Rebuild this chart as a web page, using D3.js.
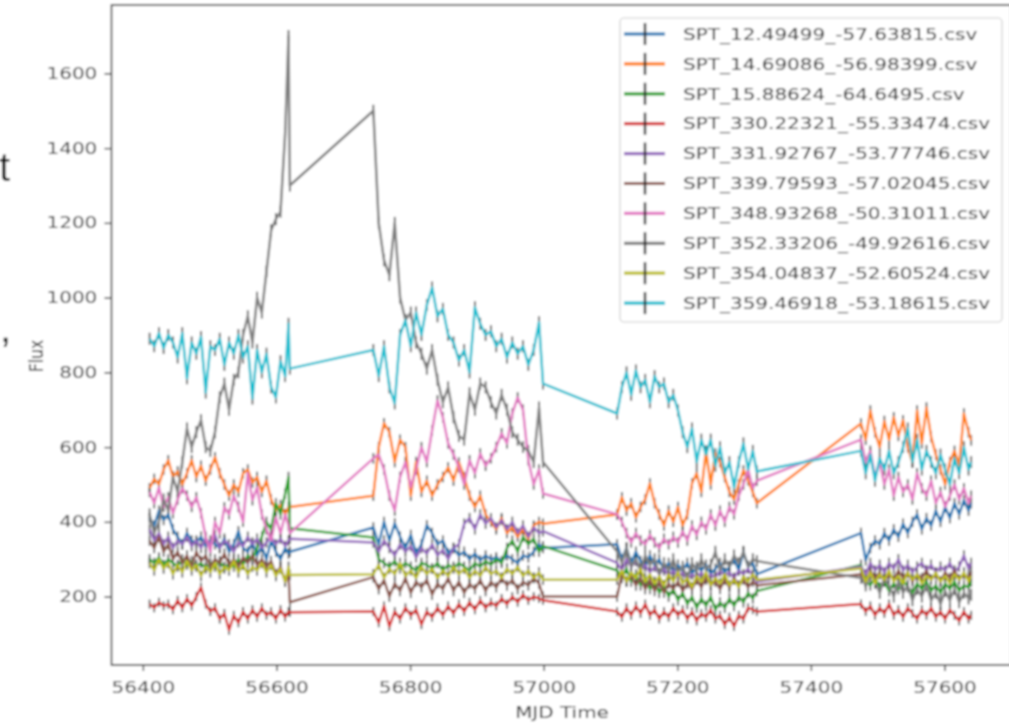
<!DOCTYPE html>
<html>
<head>
<meta charset="utf-8">
<script src="https://cdn.jsdelivr.net/npm/d3@7"></script>
<style>
  body { margin: 0; background: #fff; overflow: hidden; }
  svg { display: block; }
  text { font-family: "DejaVu Sans", sans-serif; }
</style>
</head>
<body>
<div id="chart"></div>
<script>
// observation dates (MJD), four observing seasons
const mjd = [
  56410, 56417, 56424, 56431, 56438, 56445, 56452, 56459, 56466, 56473, 56480, 56487, 56494, 56501, 56508, 56515, 56522, 56529, 56536, 56543, 56550, 56557, 56564, 56571, 56578, 56585, 56592, 56599, 56606, 56613, 56618, 56620,
  56745, 56753, 56761, 56769, 56777, 56785, 56793, 56801, 56809, 56817, 56825, 56833, 56841, 56849, 56857, 56865, 56873, 56881, 56889, 56897, 56905, 56913, 56921, 56929, 56937, 56945, 56953, 56961, 56969, 56977, 56985, 56993, 56999,
  57110, 57117, 57124, 57131, 57138, 57145, 57152, 57159, 57166, 57173, 57180, 57187, 57194, 57201, 57208, 57215, 57222, 57229, 57236, 57243, 57250, 57257, 57264, 57271, 57278, 57285, 57292, 57299, 57306, 57313, 57319,
  57475, 57482, 57489, 57496, 57503, 57510, 57517, 57524, 57531, 57538, 57545, 57552, 57559, 57566, 57573, 57580, 57587, 57594, 57601, 57608, 57615, 57622, 57629, 57636, 57640
];

const files = [
  "SPT_12.49499_-57.63815.csv",
  "SPT_14.69086_-56.98399.csv",
  "SPT_15.88624_-64.6495.csv",
  "SPT_330.22321_-55.33474.csv",
  "SPT_331.92767_-53.77746.csv",
  "SPT_339.79593_-57.02045.csv",
  "SPT_348.93268_-50.31011.csv",
  "SPT_352.33206_-49.92616.csv",
  "SPT_354.04837_-52.60524.csv",
  "SPT_359.46918_-53.18615.csv"
];
const colors = ["#1f77b4", "#ff7f0e", "#2ca02c", "#d62728", "#9467bd",
                "#8c564b", "#e377c2", "#7f7f7f", "#bcbd22", "#17becf"];

const spt12 = [
  410, 390, 430, 405, 420, 380, 360, 340, 370, 350, 345, 360, 335, 350, 340, 330, 355, 320, 340, 375, 330, 320, 345, 310, 335, 300, 350, 320, 300, 330, 315, 320,
  385, 340, 400, 350, 396, 360, 330, 365, 316, 340, 391, 370, 340, 350, 316, 330, 310, 320, 300, 315, 297, 310, 300, 305, 295, 310, 300, 290, 310, 305, 320, 340, 330,
  340, 300, 330, 290, 320, 295, 280, 310, 285, 300, 270, 290, 265, 285, 270, 290, 260, 280, 270, 285, 260, 275, 290, 265, 280, 300, 270, 320, 280, 290, 260,
  370, 297, 330, 350, 340, 370, 350, 380, 360, 395, 370, 400, 420, 380, 410, 390, 430, 400, 440, 410, 450, 420, 458, 430, 450
];
const spt14 = [
  490, 515, 500, 540, 565, 520, 535, 500, 530, 565, 520, 550, 510, 540, 573, 530, 500, 470, 500, 480, 530, 540, 505, 520, 480, 510, 460, 430, 445, 420, 440, 440,
  470, 600, 664, 640, 560, 620, 600, 470, 560, 480, 510, 470, 500, 520, 546, 510, 559, 520, 470, 440, 470, 420, 400, 380, 410, 370, 385, 360, 380, 355, 390, 400, 395,
  420, 466, 430, 450, 412, 440, 460, 503, 450, 420, 390, 430, 400, 440, 390, 420, 503, 530, 480, 591, 500, 583, 560, 520, 480, 460, 500, 538, 511, 480, 450,
  663, 620, 698, 640, 600, 670, 620, 680, 630, 672, 600, 560, 698, 610, 706, 627, 580, 540, 500, 560, 590, 550, 690, 640, 618
];
const spt15 = [
  300, 290, 305, 285, 300, 290, 280, 300, 285, 295, 280, 290, 275, 290, 280, 295, 275, 290, 280, 300, 285, 310, 300, 330, 360, 400, 380, 450, 420, 476, 520, 383,
  358, 300, 290, 280, 295, 275, 290, 280, 270, 290, 285, 275, 290, 270, 285, 275, 290, 280, 270, 290, 280, 295, 285, 300, 290, 330, 350, 320, 360, 340, 355, 320, 335,
  270, 250, 275, 240, 260, 230, 250, 220, 240, 210, 230, 200, 220, 190, 210, 180, 200, 170, 195, 175, 200, 165, 185, 170, 195, 175, 200, 185, 210, 195, 215,
  285, 240, 230, 250, 225, 240, 215, 235, 220, 245, 225, 210, 235, 220, 240, 215, 230, 210, 235, 220, 240, 215, 230, 225, 240
];
const spt330 = [
  180, 170, 185, 175, 180, 165, 190, 170, 195, 175, 200, 225, 180, 160, 170, 140, 155, 110, 150, 130, 160, 140, 165, 145, 170, 150, 160, 140, 165, 145, 160, 158,
  160, 130, 175, 120, 160, 140, 170, 150, 165, 125, 160, 145, 170, 150, 175, 155, 180, 160, 185, 165, 190, 170, 185, 175, 195, 180, 200, 185, 205, 190, 200, 195, 190,
  160, 145, 170, 150, 175, 155, 180, 150, 165, 140, 160, 145, 170, 150, 165, 140, 160, 135, 155, 145, 165, 140, 150, 125, 145, 120, 150, 140, 170, 165, 160,
  180, 160, 175, 150, 170, 155, 180, 150, 165, 145, 170, 155, 140, 165, 150, 170, 145, 160, 140, 165, 150, 135, 160, 140, 150
];
const spt331 = [
  380, 350, 370, 340, 360, 330, 350, 340, 360, 335, 350, 330, 355, 340, 365, 330, 350, 340, 320, 345, 335, 360, 340, 355, 330, 345, 360, 340, 355, 335, 350, 355,
  345, 320, 350, 330, 310, 340, 320, 335, 305, 330, 315, 340, 310, 325, 300, 330, 340, 395, 410, 380, 420, 395, 410, 385, 405, 380, 400, 370, 390, 360, 385, 370, 375,
  290, 270, 300, 280, 295, 270, 285, 265, 280, 260, 275, 255, 270, 250, 265, 245, 260, 250, 265, 245, 260, 250, 270, 255, 265, 250, 270, 260, 275, 255, 240,
  280, 260, 290, 270, 285, 265, 290, 275, 300, 270, 285, 265, 280, 290, 270, 285, 265, 280, 270, 290, 265, 280, 310, 275, 290
];
const spt339 = [
  350, 330, 360, 320, 340, 300, 320, 290, 310, 280, 320, 295, 310, 280, 300, 290, 315, 285, 300, 280, 305, 290, 310, 285, 300, 280, 295, 260, 280, 240, 260, 185,
  252, 220, 245, 200, 235, 215, 250, 210, 240, 225, 245, 205, 235, 220, 250, 215, 240, 210, 235, 220, 245, 215, 240, 225, 250, 230, 245, 220, 240, 230, 250, 235, 200,
  200, 260, 240, 255, 230, 250, 220, 245, 215, 240, 210, 235, 220, 240, 215, 235, 220, 245, 225, 250, 230, 240, 220, 245, 225, 250, 230, 245, 225, 240, 230,
  260, 240, 270, 250, 265, 240, 260, 245, 270, 250, 265, 240, 260, 250, 270, 245, 260, 240, 265, 250, 270, 245, 260, 250, 265
];
const spt348 = [
  480, 450, 492, 440, 466, 423, 460, 490, 470, 440, 466, 423, 360, 320, 400, 369, 439, 420, 470, 440, 400, 530, 458, 492, 420, 380, 350, 412, 369, 420, 390, 370,
  570, 580, 540, 470, 430, 520, 560, 492, 540, 600, 560, 645, 725, 680, 610, 580, 546, 500, 565, 530, 583, 550, 570, 600, 637, 610, 690, 733, 700, 565, 500, 540, 476,
  420, 400, 370, 345, 370, 350, 340, 365, 345, 330, 355, 340, 360, 345, 375, 350, 390, 365, 400, 380, 420, 390, 430, 400, 440, 420, 470, 500, 540, 490, 510,
  620, 560, 590, 520, 560, 500, 540, 470, 520, 480, 500, 460, 530, 490, 470, 510, 450, 480, 440, 470, 500, 460, 490, 450, 470
];
const spt352 = [
  420, 370, 400, 460, 430, 520, 480, 560, 650, 600, 640, 672, 600, 590, 640, 733, 770, 700, 780, 800, 900, 950, 880, 1000, 960, 1070, 1180, 1210, 1230, 1440, 1700, 1300,
  1500, 1200, 1100, 1060, 1200, 1000, 940, 960, 880, 850, 810, 860, 780, 720, 760, 680, 630, 620, 744, 700, 770, 760, 720, 690, 740, 700, 640, 620, 600, 590, 560, 706, 560,
  320, 290, 330, 280, 300, 270, 310, 285, 300, 260, 290, 270, 300, 265, 280, 250, 290, 270, 300, 275, 285, 320, 270, 300, 280, 310, 290, 320, 280, 300, 295,
  250, 230, 260, 240, 210, 250, 230, 200, 240, 210, 230, 190, 220, 200, 230, 190, 210, 180, 215, 190, 220, 185, 210, 195, 205
];
const spt354 = [
  290, 270, 300, 275, 290, 260, 285, 265, 295, 270, 285, 255, 280, 265, 290, 260, 280, 270, 295, 265, 285, 260, 280, 270, 290, 265, 285, 255, 275, 240, 280, 258,
  260, 285, 250, 275, 260, 290, 255, 270, 250, 280, 260, 275, 250, 270, 255, 280, 260, 275, 250, 270, 255, 280, 260, 270, 250, 275, 260, 280, 255, 270, 250, 265, 245,
  245, 270, 240, 265, 250, 275, 240, 260, 235, 255, 230, 260, 240, 265, 235, 250, 225, 255, 240, 265, 230, 250, 235, 260, 230, 245, 225, 255, 240, 260, 245,
  275, 240, 265, 235, 260, 245, 270, 240, 255, 235, 265, 245, 260, 235, 255, 245, 265, 240, 255, 235, 260, 245, 265, 240, 255
];
const spt359 = [
  890, 870, 905, 865, 900, 880, 840, 905, 784, 880, 850, 895, 746, 870, 860, 890, 820, 880, 850, 900, 840, 870, 730, 860, 800, 850, 760, 733, 830, 790, 930, 810,
  860, 790, 870, 760, 717, 900, 940, 870, 960, 900, 980, 1027, 950, 970, 900, 880, 832, 860, 800, 974, 930, 900, 910, 870, 890, 840, 880, 850, 870, 820, 860, 934, 770,
  690, 760, 800, 740, 805, 760, 780, 720, 790, 760, 770, 720, 740, 698, 640, 600, 650, 560, 620, 580, 620, 550, 600, 530, 560, 492, 560, 610, 540, 590, 535,
  590, 530, 580, 510, 570, 540, 590, 530, 560, 600, 650, 560, 620, 540, 590, 560, 530, 580, 540, 500, 570, 530, 600, 540, 560
];
const fluxErr = [14, 14, 14, 12, 14, 14, 14, 16, 14, 16];

const yTicks = [200, 400, 600, 800, 1000, 1200, 1400, 1600];
const xTicks = [56400, 56600, 56800, 57000, 57200, 57400, 57600];

const series = [spt12, spt14, spt15, spt330, spt331, spt339, spt348, spt352, spt354, spt359];

var width = 1009;
var height = 724;
var fs = 15.5;      // font size
var sx = 1.29;      // the picture is stretched sideways

var svg = d3.select("#chart").append("svg")
  .attr("width", width)
  .attr("height", height);

svg.append("defs").append("filter").attr("id", "soft")
  .attr("filterUnits", "userSpaceOnUse")
  .attr("x", 0).attr("y", 0).attr("width", width).attr("height", height)
  .append("feGaussianBlur").attr("stdDeviation", 0.85);

var root = svg.append("g").attr("filter", "url(#soft)");
root.append("rect").attr("width", width).attr("height", height).attr("fill", "#fff");

var x = d3.scaleLinear().domain([56353, 57700]).range([111.5, 1011.3]);
var y = d3.scaleLinear().domain([17, 1783]).range([665, 5]);

// error bars first, all lines on top (matplotlib order)
series.forEach(function (vals, k) {
  root.append("g").selectAll("line")
    .data(vals)
    .enter()
    .append("line")
    .attr("x1", (d, i) => x(mjd[i]))
    .attr("x2", (d, i) => x(mjd[i]))
    .attr("y1", d => y(d - fluxErr[k]))
    .attr("y2", d => y(d + fluxErr[k]))
    .attr("stroke", "#222")
    .attr("stroke-width", 1.7)
    .attr("opacity", 0.85);
});

var line = d3.line()
  .defined((d, i) => d != null && mjd[i] != null)
  .x((d, i) => x(mjd[i]))
  .y(d => y(d));

series.forEach(function (vals, k) {
  root.append("path")
    .datum(vals)
    .attr("d", line)
    .attr("fill", "none")
    .attr("stroke", colors[k])
    .attr("stroke-width", 2.5)
    .attr("stroke-linejoin", "round");
});

// frame
root.append("rect")
  .attr("x", 111.5).attr("y", 5)
  .attr("width", 1011.3 - 111.5).attr("height", 660)
  .attr("fill", "none")
  .attr("stroke", "#333")
  .attr("stroke-width", 1.6);

// axes
var yAxis = root.append("g")
  .attr("transform", "translate(111.5,0)")
  .call(d3.axisLeft(y).tickValues(yTicks).tickSize(7).tickPadding(4).tickFormat(d3.format("d")));
var xAxis = root.append("g")
  .attr("transform", "translate(0,665)")
  .call(d3.axisBottom(x).tickValues(xTicks).tickSize(6).tickPadding(11).tickFormat(d3.format("d")));

[yAxis, xAxis].forEach(function (ax) {
  ax.select(".domain").remove();
  ax.selectAll(".tick line").attr("stroke", "#333").attr("stroke-width", 1.4);
  ax.selectAll(".tick text")
    .attr("fill", "#333")
    .style("font-size", fs + "px")
    .style("font-family", "DejaVu Sans, sans-serif");
});
yAxis.selectAll(".tick text").attr("transform", "scale(" + sx + ",1)");
xAxis.selectAll(".tick text").attr("transform", "scale(" + sx + ",1)");

root.append("text")
  .attr("transform", "translate(562,718) scale(" + sx + ",1)")
  .attr("text-anchor", "middle")
  .style("font-size", fs + "px")
  .attr("fill", "#222")
  .text("MJD Time");

root.append("text")
  .attr("transform", "translate(43,356) scale(" + sx + ",1) rotate(-90)")
  .attr("text-anchor", "middle")
  .style("font-size", fs + "px")
  .attr("fill", "#222")
  .text("Flux");

// legend
var leg = root.append("g");
leg.append("rect")
  .attr("x", 620).attr("y", 18)
  .attr("width", 382).attr("height", 304)
  .attr("rx", 4)
  .attr("fill", "#fff").attr("fill-opacity", 0.85)
  .attr("stroke", "#d0d0d0").attr("stroke-width", 1.2);

files.forEach(function (name, i) {
  var yy = 34 + i * 29.9;
  leg.append("line")
    .attr("x1", 624).attr("x2", 665)
    .attr("y1", yy).attr("y2", yy)
    .attr("stroke", colors[i]).attr("stroke-width", 3.2);
  leg.append("line")
    .attr("x1", 645).attr("x2", 645)
    .attr("y1", yy - 11).attr("y2", yy + 11)
    .attr("stroke", "#222").attr("stroke-width", 2.4);
  leg.append("text")
    .attr("transform", "translate(683," + (yy + 5.7) + ") scale(" + sx + ",1)")
    .style("font-size", fs + "px")
    .attr("fill", "#222")
    .text(name);
});

// bits of the surrounding page text, cut by the crop
root.append("text").attr("x", -1).attr("y", 181)
  .style("font-family", "Liberation Sans, Arial, sans-serif")
  .style("font-size", "40px").attr("fill", "#000").text("t");
root.append("text").attr("x", 0).attr("y", 342)
  .style("font-family", "Liberation Sans, Arial, sans-serif")
  .style("font-size", "40px").attr("fill", "#000").text(",");
</script>
</body>
</html>
